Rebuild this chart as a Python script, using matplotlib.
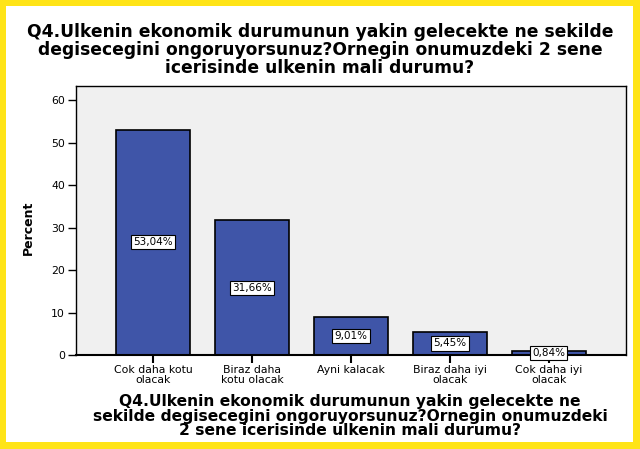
import matplotlib
matplotlib.use("Agg")
import matplotlib.pyplot as plt
from matplotlib.patches import Rectangle

categories = ["Cok daha kotu\nolacak", "Biraz daha\nkotu olacak", "Ayni kalacak",
              "Biraz daha iyi\nolacak", "Cok daha iyi\nolacak"]
percents = [53.04, 31.66, 9.01, 5.45, 0.84]
yticks = [0, 10, 20, 30, 40, 50, 60]
title = ("Q4.Ulkenin ekonomik durumunun yakin gelecekte ne sekilde\n"
         "degisecegini ongoruyorsunuz?Ornegin onumuzdeki 2 sene\n"
         "icerisinde ulkenin mali durumu?")
xlabel = ("Q4.Ulkenin ekonomik durumunun yakin gelecekte ne\n"
          "sekilde degisecegini ongoruyorsunuz?Ornegin onumuzdeki\n"
          "2 sene icerisinde ulkenin mali durumu?")

plt.rcParams['font.family'] = ['DejaVu Sans']

W, H = 640, 449
fig = plt.figure(figsize=(W / 100, H / 100), dpi=100)
fig.patch.set_facecolor('white')
yellow = '#FFE417'
# yellow frame: left 6, top 6, right 7, bottom 7 px
for (x0, y0, w, h) in [(0, 0, 6, H), (633, 0, W - 633, H), (0, H - 6, W, 6), (0, 0, W, 7)]:
    fig.patches.append(Rectangle((x0 / W, y0 / H), w / W, h / H, transform=fig.transFigure,
                                 facecolor=yellow, edgecolor='none', zorder=0))

left, right, top, bottom = 76, 626, 86, 355
ax = fig.add_axes([left / W, 1 - bottom / H, (right - left) / W, (bottom - top) / H])
ax.set_zorder(2)
ax.set_facecolor('#F0F0F0')

x = list(range(len(categories)))
ax.bar(x, percents, width=0.75, color='#3F55A8', edgecolor='black', linewidth=1.2, zorder=2)
for xi, v in zip(x, percents):
    ax.text(xi, v / 2, f"{v:.2f}".replace('.', ',') + "%", ha='center', va='center',
            fontsize=7.5, zorder=3,
            bbox=dict(boxstyle='square,pad=0.2', facecolor='white', edgecolor='black', linewidth=0.8))

ax.set_xlim(-0.78, 4.78)
ax.set_ylim(0, 63.3)
ax.set_yticks(yticks)
ax.set_xticks(x)
ax.set_xticklabels(categories, fontsize=7.8, linespacing=0.95)
ax.tick_params(axis='y', labelsize=7.8, length=6, width=1, pad=2)
ax.tick_params(axis='x', length=6, width=1.5, pad=1.5)
for s in ax.spines.values():
    s.set_linewidth(1)
ax.spines['bottom'].set_linewidth(1.5)

fig.text(0.5, 1 - 50 / H, title, ha='center', va='center', fontsize=12.3,
         fontweight='bold', linespacing=1.02)
fig.text(350 / W, 1 - 416 / H, xlabel, ha='center', va='center', fontsize=11.2,
         fontweight='bold', linespacing=0.95)
fig.text(28 / W, 1 - 228 / H, "Percent", ha='center', va='center', rotation=90,
         fontsize=9, fontweight='bold')

fig.savefig('out.png', dpi=100, facecolor=fig.get_facecolor())
